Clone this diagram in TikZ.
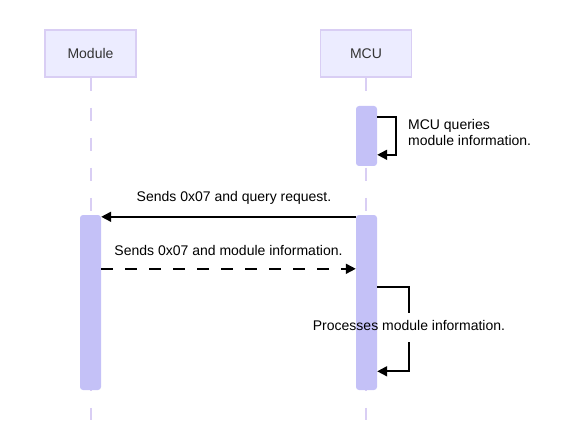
\documentclass[tikz,border=0pt]{standalone}
\usepackage{fontspec}
\setmainfont{Liberation Sans}
\usetikzlibrary{arrows.meta,calc}
\definecolor{actfill}{HTML}{ECECFF}
\definecolor{actline}{HTML}{D9CEF4}
\definecolor{actv}{HTML}{C4C1F7}
\definecolor{txt}{HTML}{333333}
\begin{document}
\begin{tikzpicture}[x=1pt,y=-1pt,
  actor/.style={draw=actline, line width=1.5pt, fill=actfill, minimum width=91pt, minimum height=47pt, inner sep=0pt, font=\fontsize{14}{16}\selectfont, text=txt},
  life/.style={draw=actline, line width=2pt, dash pattern=on 13pt off 17pt},
  activ/.style={fill=actv, rounded corners=3pt, minimum width=21pt, inner sep=0pt},
  msg/.style={draw=black, line width=1.8pt, line join=miter, -{Triangle[length=10pt,width=10pt]}},
  msgline/.style={draw=black, line width=1.8pt, line join=miter},
  dashmsg/.style={msg, dash pattern=on 12pt off 12pt},
  lbl/.style={font=\fontsize{14}{16}\selectfont, text=black, inner sep=0pt}]
\useasboundingbox (0,0) rectangle (565,433);
% actors
\node[actor] (module) at (90.5,53.5) {Module};
\node[actor] (mcu) at (366,53.5) {MCU};
% lifelines
\coordinate (modEnd) at (90.5,420);
\coordinate (mcuEnd) at (366,420);
\draw[life] (module.south) -- (modEnd);
\draw[life] (mcu.south) -- (mcuEnd);
% activations
\node[activ, minimum height=175pt] (modA) at (90.5,302.5) {};
\node[activ, minimum height=60pt] (mcuA1) at (366.5,136) {};
\node[activ, minimum height=175pt] (mcuA2) at (366.5,302.5) {};
% self message 1
\coordinate (s1a) at ($(mcuA1.north east)+(0,11)$);
\coordinate (s1b) at ($(mcuA1.north east)+(0,49)$);
\draw[msg] (s1a) -- ++(19,0) |- (s1b);
\node[lbl, anchor=north west, align=left] (l0) at (408,119) {MCU queries\\module information.};
% message 1
\coordinate (m1a) at ($(mcuA2.north west)+(0,2)$);
\coordinate (m1b) at ($(modA.north east)+(0,2)$);
\draw[msg] (m1a) -- (m1b);
\node[lbl, anchor=base] (l1) at (234,201) {Sends 0x07 and query request.};
% message 2
\coordinate (m2a) at ($(modA.north east)+(0,54)$);
\coordinate (m2b) at ($(mcuA2.north west)+(0,54)$);
\draw[dashmsg] (m2a) -- (m2b);
\node[lbl, anchor=base] (l2) at (228.5,255) {Sends 0x07 and module information.};
% self message 2
\coordinate (s2a) at ($(mcuA2.north east)+(0,72)$);
\coordinate (s2b) at ($(mcuA2.north east)+(0,156.5)$);
\coordinate (s2c) at (409,313);
\coordinate (s2d) at (409,342);
\draw[msgline] (s2a) -| (s2c);
\draw[msg] (s2d) |- (s2b);
\node[lbl, anchor=base] (l3) at (409,330) {Processes module information.};
\end{tikzpicture}
\end{document}
